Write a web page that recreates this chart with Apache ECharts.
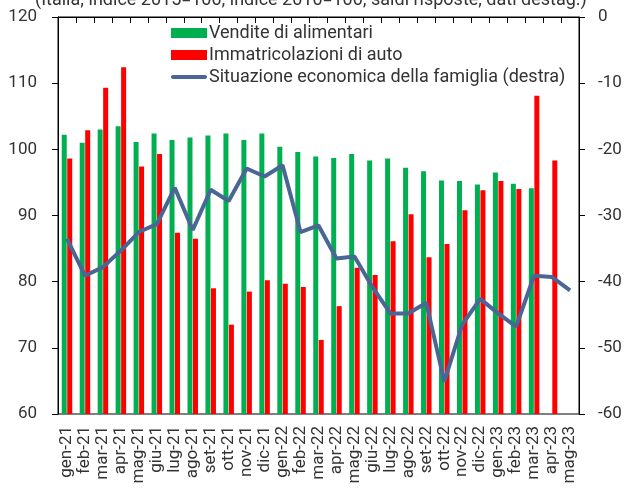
<!DOCTYPE html>
<html>
<head>
<meta charset="utf-8">
<script src="https://cdn.jsdelivr.net/npm/echarts@6/dist/echarts.min.js"></script>
<style>
  html, body { margin: 0; padding: 0; background: #fff; }
  #chart { width: 627px; height: 488px; }
</style>
</head>
<body>
<div id="chart"></div>
<script>
// categorie (mesi)
var mesi = ['gen-21', 'feb-21', 'mar-21', 'apr-21', 'mag-21', 'giu-21', 'lug-21', 'ago-21', 'set-21', 'ott-21',
    'nov-21', 'dic-21', 'gen-22', 'feb-22', 'mar-22', 'apr-22', 'mag-22', 'giu-22', 'lug-22', 'ago-22',
    'set-22', 'ott-22', 'nov-22', 'dic-22', 'gen-23', 'feb-23', 'mar-23', 'apr-23', 'mag-23'];

// vendite di alimentari (asse sinistro)
var alimentari = [102.2, 101.0, 103.0, 103.5, 101.1, 102.4, 101.4, 101.8, 102.1, 102.4,
    101.4, 102.4, 100.4, 99.6, 98.9, 98.7, 99.3, 98.3, 98.6, 97.2,
    96.7, 95.3, 95.2, 94.7, 96.5, 94.8, 94.1, null, null];

// immatricolazioni di auto (asse sinistro)
var auto = [98.6, 102.9, 109.3, 112.4, 97.4, 99.3, 87.4, 86.5, 79.0, 73.5,
    78.5, 80.2, 79.7, 79.2, 71.2, 76.3, 82.1, 81.0, 86.1, 90.2,
    83.7, 85.7, 90.8, 93.8, 95.2, 94.0, 108.1, 98.3, null];

// situazione economica della famiglia (asse destro)
var famiglia = [-33.5, -39.1, -37.8, -35.3, -32.5, -31.3, -25.8, -32.2, -26.1, -27.8,
    -22.9, -24.1, -22.4, -32.5, -31.5, -36.5, -36.2, -40.8, -44.8, -44.8,
    -43.2, -55.1, -46.5, -42.6, -44.8, -46.8, -39.1, -39.3, -41.3];

var font = 'Roboto';
var grigio = '#333';
var blu = '#4A6694';

var myChart = echarts.init(document.getElementById('chart'));

var option = {
    animation: false,
    title: {
        text: '(Italia; indice 2015=100; indice 2010=100; saldi risposte, dati destag.)',
        left: 30,
        top: -14,
        textStyle: {fontFamily: font, fontSize: 18, fontWeight: 'normal', color: grigio}
    },
    grid: {
        left: 58, right: 48, top: 17, bottom: 74,
        show: true, borderColor: '#000', borderWidth: 1
    },
    legend: {
        orient: 'vertical',
        left: 169,
        top: 21,
        itemWidth: 36,
        itemHeight: 10,
        itemGap: 4,
        padding: [3, 4, 3, 2],
        textStyle: {fontFamily: font, fontSize: 18, color: grigio, padding: [0, 0, 0, -3]},
        data: [
            {name: 'Vendite di alimentari', icon: 'rect'},
            {name: 'Immatricolazioni di auto', icon: 'rect'},
            {
                name: 'Situazione economica della famiglia (destra)',
                icon: 'path://M2,0 L34,0 C36.7,0 36.7,4 34,4 L2,4 C-0.7,4 -0.7,0 2,0 Z',
                itemStyle: {color: blu}
            }
        ]
    },
    xAxis: {
        type: 'category',
        data: mesi,
        axisLine: {lineStyle: {color: '#000', width: 1}},
        axisTick: {show: true, length: 6, lineStyle: {color: '#000'}},
        axisLabel: {
            rotate: 90, interval: 0, margin: 12,
            fontFamily: font, fontSize: 17, color: grigio
        }
    },
    yAxis: [{
        type: 'value',
        min: 60, max: 120, interval: 10,
        splitLine: {show: false},
        axisLine: {show: true, lineStyle: {color: '#000'}},
        axisTick: {show: true, length: 6, lineStyle: {color: '#000'}},
        axisLabel: {margin: 21, fontFamily: font, fontSize: 17, color: grigio}
    }, {
        type: 'value',
        min: -60, max: 0, interval: 10,
        splitLine: {show: false},
        axisLine: {show: true, lineStyle: {color: '#000'}},
        axisTick: {show: true, length: 6, lineStyle: {color: '#000'}},
        axisLabel: {margin: 19, fontFamily: font, fontSize: 17, color: grigio}
    }],
    series: [{
        name: 'Vendite di alimentari',
        type: 'bar',
        data: alimentari,
        barWidth: 5,
        barGap: '10%',
        itemStyle: {color: '#00B050'}
    }, {
        name: 'Immatricolazioni di auto',
        type: 'bar',
        data: auto,
        barWidth: 5,
        itemStyle: {color: '#FF0000'}
    }, {
        name: 'Situazione economica della famiglia (destra)',
        type: 'line',
        yAxisIndex: 1,
        data: famiglia,
        symbol: 'none',
        z: 10,
        lineStyle: {color: blu, width: 4},
        itemStyle: {color: blu}
    }]
};

myChart.setOption(option);
</script>
</body>
</html>
